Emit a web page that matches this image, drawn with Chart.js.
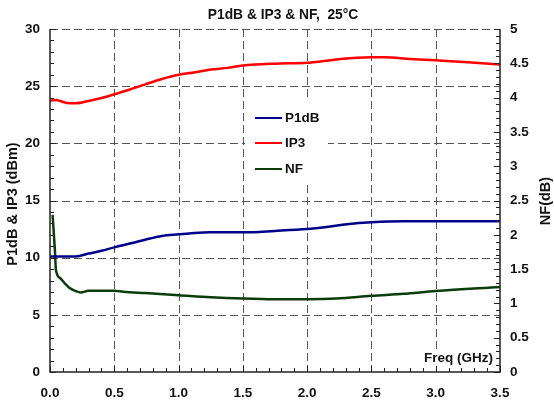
<!DOCTYPE html>
<html>
<head>
<meta charset="utf-8">
<script src="https://cdn.jsdelivr.net/npm/chart.js@4/dist/chart.umd.min.js"></script>
<style>
html,body{margin:0;padding:0;background:#fff;}
#wrap{width:554px;height:400px;position:relative;}
</style>
</head>
<body>
<div id="wrap"><canvas id="c" width="554" height="400"></canvas></div>
<script>
// ---- data ----
const titleText = 'P1dB & IP3 & NF,  25°C';
const leftAxisTitle = 'P1dB & IP3 (dBm)';
const rightAxisTitle = 'NF(dB)';
const xAxisTitle = 'Freq (GHz)';
const seriesNames = ['P1dB', 'IP3', 'NF'];

const p1dbFreq = [0.0, 0.2, 0.3, 0.4, 0.5, 0.64, 0.74, 0.87, 1.0, 1.12, 1.25, 1.5, 1.75, 2.0, 2.15, 2.31, 2.5, 2.75, 3.0, 3.5];
const p1dbVals = [10.1, 10.1, 10.36, 10.6, 10.9, 11.28, 11.57, 11.9, 12.04, 12.16, 12.22, 12.22, 12.34, 12.5, 12.68, 12.92, 13.09, 13.18, 13.18, 13.18];

const ip3Freq = [0.0, 0.05, 0.08, 0.13, 0.2, 0.3, 0.4, 0.5, 0.61, 0.74, 0.87, 1.0, 1.12, 1.25, 1.38, 1.5, 1.75, 2.0, 2.13, 2.26, 2.5, 2.6, 2.8, 3.0, 3.25, 3.5];
const ip3Vals = [23.73, 23.8, 23.7, 23.53, 23.5, 23.7, 23.96, 24.29, 24.67, 25.16, 25.63, 26.0, 26.2, 26.45, 26.6, 26.8, 26.97, 27.05, 27.2, 27.38, 27.52, 27.52, 27.38, 27.26, 27.1, 26.9];

const nfFreq = [0.02, 0.038, 0.046, 0.078, 0.117, 0.156, 0.194, 0.24, 0.3, 0.5, 0.57, 0.74, 1.0, 1.25, 1.5, 1.75, 2.0, 2.23, 2.5, 2.75, 3.0, 3.5];
const nfVals = [2.29, 1.78, 1.49, 1.37, 1.29, 1.22, 1.185, 1.16, 1.185, 1.185, 1.17, 1.15, 1.12, 1.09, 1.07, 1.06, 1.06, 1.07, 1.11, 1.14, 1.18, 1.24];

const xTicksMajor = [0, 0.5, 1.0, 1.5, 2.0, 2.5, 3.0, 3.5];
const yLeftTicks = [0, 5, 10, 15, 20, 25, 30];
const yRightTicks = [0, 0.5, 1, 1.5, 2, 2.5, 3, 3.5, 4, 4.5, 5];

// ---- styling ----
const colors = ['#000088', '#ff0000', '#0b3d0b'];
const FONT = "'Liberation Sans', Arial, sans-serif";
const textColor = '#111';

function pts(xs, ys){ return xs.map((x,i)=>({x:x, y:ys[i]})); }

const decor = {
  id: 'decor',
  beforeDatasetsDraw(chart){
    const {ctx, chartArea:a, scales} = chart;
    const x = scales.x, y = scales.y;
    ctx.save();
    ctx.strokeStyle = '#555';
    ctx.lineWidth = 1;
    ctx.setLineDash([8,4]);
    xTicksMajor.forEach(v=>{
      if (v<=0 || v>=3.5) return;
      const px = Math.round(x.getPixelForValue(v)) + 0.5;
      ctx.beginPath(); ctx.moveTo(px, a.top); ctx.lineTo(px, a.bottom); ctx.stroke();
    });
    yLeftTicks.forEach(v=>{
      if (v<=0) return;
      const py = Math.round(y.getPixelForValue(v)) + 0.5;
      ctx.beginPath(); ctx.moveTo(a.left, py); ctx.lineTo(a.right, py); ctx.stroke();
    });
    ctx.setLineDash([]);
    // white boxes behind legend and x title
    ctx.fillStyle = '#fff';
    ctx.fillRect(245, 98, 83, 84);
    ctx.fillRect(416, 349, 80, 18);
    ctx.restore();
  },
  afterDraw(chart){
    const {ctx, chartArea:a, scales} = chart;
    const x = scales.x, y = scales.y, y2 = scales.y2;
    ctx.save();
    // borders
    ctx.strokeStyle = '#222';
    ctx.lineWidth = 1.5;
    ctx.beginPath();
    ctx.moveTo(a.left, a.top); ctx.lineTo(a.left, a.bottom); ctx.lineTo(a.right, a.bottom); ctx.lineTo(a.right, a.top);
    ctx.stroke();
    // inward ticks
    ctx.lineWidth = 1;
    for (let i=0;i<=35;i++){
      const v = i/10;
      const px = Math.round(x.getPixelForValue(v)) + 0.5;
      const len = (i%5===0) ? 6 : 4;
      ctx.beginPath(); ctx.moveTo(px, a.bottom); ctx.lineTo(px, a.bottom - len); ctx.stroke();
    }
    for (let i=0;i<=30;i++){
      const py = Math.round(y.getPixelForValue(i)) + 0.5;
      const len = (i%5===0) ? 6 : 4;
      ctx.beginPath(); ctx.moveTo(a.left, py); ctx.lineTo(a.left + len, py); ctx.stroke();
    }
    for (let i=0;i<=50;i++){
      const py = Math.round(y2.getPixelForValue(i/10)) + 0.5;
      const len = (i%5===0) ? 6 : 4;
      ctx.beginPath(); ctx.moveTo(a.right, py); ctx.lineTo(a.right - len, py); ctx.stroke();
    }
    // legend
    ctx.font = 'bold 13.5px ' + FONT;
    ctx.fillStyle = textColor;
    ctx.textBaseline = 'middle';
    ctx.textAlign = 'left';
    const rows = [118, 143, 169];
    chart.data.datasets.forEach((ds, i)=>{
      ctx.strokeStyle = ds.borderColor;
      ctx.lineWidth = 2;
      ctx.beginPath(); ctx.moveTo(255, rows[i]); ctx.lineTo(282, rows[i]); ctx.stroke();
      ctx.fillText(ds.label, 285, rows[i]);
    });
    // x title inside plot
    ctx.textAlign = 'right';
    ctx.fillText(xAxisTitle, 493, 358);
    // main title
    ctx.textAlign = 'center';
    ctx.font = 'bold 13.8px ' + FONT;
    ctx.fillText(titleText, 283, 15);
    ctx.font = 'bold 14.5px ' + FONT;
    // left axis title
    ctx.save();
    ctx.translate(13, 204);
    ctx.rotate(-Math.PI/2);
    ctx.textAlign = 'center';
    ctx.fillText(leftAxisTitle, 0, 0);
    ctx.restore();
    // right axis title
    ctx.save();
    ctx.translate(546, 201);
    ctx.rotate(-Math.PI/2);
    ctx.textAlign = 'center';
    ctx.fillText(rightAxisTitle, 0, 0);
    ctx.restore();
    ctx.restore();
  }
};

const tickFont = {family: FONT, size: 13.5, weight: 'bold'};

new Chart(document.getElementById('c'), {
  type: 'line',
  data: {
    datasets: [
      {label: seriesNames[0], data: pts(p1dbFreq, p1dbVals), borderColor: colors[0], yAxisID: 'y'},
      {label: seriesNames[1], data: pts(ip3Freq, ip3Vals), borderColor: colors[1], yAxisID: 'y'},
      {label: seriesNames[2], data: pts(nfFreq, nfVals), borderColor: colors[2], yAxisID: 'y2'}
    ]
  },
  options: {
    responsive: false,
    animation: false,
    devicePixelRatio: 1,
    layout: {padding: {top: 29, left: 0, right: 0, bottom: 0}},
    elements: {
      point: {radius: 0},
      line: {borderWidth: 2.5, cubicInterpolationMode: 'monotone', fill: false}
    },
    plugins: {legend: {display: false}, title: {display: false}, tooltip: {enabled: false}},
    scales: {
      x: {
        type: 'linear', position: 'bottom', min: 0, max: 3.5,
        afterBuildTicks: s => { s.ticks = xTicksMajor.map(v=>({value:v})); },
        afterFit: s => { s.height = 28; },
        grid: {display: false, drawTicks: false},
        border: {display: false},
        ticks: {font: tickFont, color: textColor, padding: 13, maxRotation: 0, autoSkip: false,
                callback: v => Number(v).toFixed(1)}
      },
      y: {
        type: 'linear', position: 'left', min: 0, max: 30,
        afterBuildTicks: s => { s.ticks = yLeftTicks.map(v=>({value:v})); },
        afterFit: s => { s.width = 50; },
        grid: {display: false, drawTicks: false},
        border: {display: false},
        ticks: {font: tickFont, color: textColor, padding: 10, autoSkip: false,
                callback: v => String(v)}
      },
      y2: {
        type: 'linear', position: 'right', min: 0, max: 5,
        afterBuildTicks: s => { s.ticks = yRightTicks.map(v=>({value:v})); },
        afterFit: s => { s.width = 54; },
        grid: {display: false, drawTicks: false},
        border: {display: false},
        ticks: {font: tickFont, color: textColor, padding: 10, autoSkip: false,
                callback: v => String(v)}
      }
    }
  },
  plugins: [decor]
});
</script>
</body>
</html>
